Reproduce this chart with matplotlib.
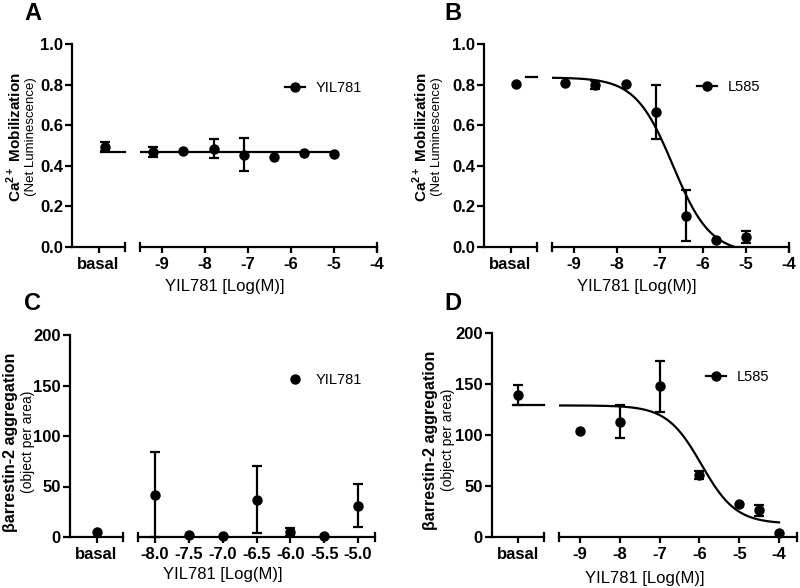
import matplotlib.pyplot as plt
from matplotlib.lines import Line2D
import numpy as np

plt.rcParams['font.family'] = ['Liberation Sans', 'DejaVu Sans']
plt.rcParams['mathtext.fontset'] = 'custom'
plt.rcParams['mathtext.rm'] = 'Liberation Sans'
plt.rcParams['mathtext.bf'] = 'Liberation Sans:bold'

W, H = 800, 588

# ---- data ----
# A: Ca2+ mobilization, YIL781
a_basal, a_basal_err = 0.495, 0.02
a_x = [-9.2, -8.5, -7.8, -7.1, -6.4, -5.7, -5.0]
a_y = [0.470, 0.475, 0.485, 0.455, 0.445, 0.465, 0.458]
a_err = [0.025, 0.0, 0.045, 0.082, 0.0, 0.0, 0.0]
a_fit = 0.468

# B: Ca2+ mobilization, L585
b_basal, b_basal_err = 0.805, 0.0
b_x = [-9.2, -8.5, -7.8, -7.1, -6.4, -5.7, -5.0]
b_y = [0.810, 0.800, 0.805, 0.665, 0.155, 0.035, 0.050]
b_err = [0.0, 0.02, 0.0, 0.135, 0.125, 0.0, 0.03]
b_fit = dict(top=0.835, bottom=-0.03, logic50=-6.7, hill=1.0)

# C: beta-arrestin-2 aggregation, YIL781 (no fit)
c_basal, c_basal_err = 5, 0
c_x = [-8.0, -7.5, -7.0, -6.5, -6.0, -5.5, -5.0]
c_y = [42, 2, 1, 37, 5, 0.5, 31]
c_err = [42, 0, 0, 33, 4, 0, 21]

# D: beta-arrestin-2 aggregation, L585
d_basal, d_basal_err = 139, 10
d_x = [-9, -8, -7, -6, -5, -4.5, -4]
d_y = [104, 113, 148, 61, 32, 26, 4]
d_err = [0, 16, 25, 4, 0, 5, 0]
d_fit = dict(top=129, bottom=13, logic50=-5.95, hill=1.0)


def logistic(x, top, bottom, logic50, hill):
    return bottom + (top - bottom) / (1 + 10 ** ((x - logic50) * hill))


fig = plt.figure(figsize=(W / 100, H / 100), dpi=100)

LW = 1.6
MS = 6.5
TICK_FS = 12


def fpos(x0, x1, ytop, ybot):
    return [x0 / W, 1 - ybot / H, (x1 - x0) / W, (ybot - ytop) / H]


def cap(ax, x):
    ax.plot([x, x], [-0.022, 0.022], color='k', lw=LW,
            transform=ax.get_xaxis_transform(), clip_on=False)


def points(ax, x, y, err):
    x, y, err = np.asarray(x, float), np.asarray(y, float), np.asarray(err, float)
    m = err > 0
    if m.any():
        ax.errorbar(x[m], y[m], yerr=err[m], fmt='none', ecolor='k',
                    elinewidth=LW, capsize=3.5, capthick=LW, clip_on=False)
    ax.plot(x, y, 'o', color='k', ms=MS, clip_on=False, zorder=4)


def panel(geo, ylim, yticks, ylabels, xlim, xticks, xlabels,
          basal, basal_err, basal_x, x, y, err,
          fit=None, flat=None, fit_end=None, basal_fit_from=None,
          legend_label='', legend_line=True, legend_xy=(0, 0),
          ylab1='', ylab1_size=10.5, ylab2='', ylab2_size=9.5, ylab_xy=(0, 0, 0),
          xlab_y=0, letter='', letter_xy=(0, 0)):
    ax0, bend, mstart, mend, ytop, ybot = geo
    axb = fig.add_axes(fpos(ax0, bend, ytop, ybot))
    axm = fig.add_axes(fpos(mstart, mend, ytop, ybot))
    for a in (axb, axm):
        a.set_ylim(*ylim)
        a.patch.set_visible(False)
        for s in ('top', 'right'):
            a.spines[s].set_visible(False)
        a.spines['bottom'].set_linewidth(LW)
        a.tick_params(axis='x', direction='out', length=4, width=LW, pad=3,
                      labelsize=TICK_FS)
    axb.spines['left'].set_linewidth(LW)
    axm.spines['left'].set_visible(False)
    axb.tick_params(axis='y', direction='out', length=5, width=LW, pad=1.5,
                    labelsize=TICK_FS)
    axb.set_yticks(yticks, ylabels, fontweight='bold')
    axm.set_yticks([])
    axb.set_xlim(0, 2)
    axb.set_xticks([1], ['basal'], fontweight='bold')
    axm.set_xlim(*xlim)
    axm.set_xticks(xticks, xlabels, fontweight='bold')
    cap(axb, 2)
    cap(axm, xlim[0])
    cap(axm, xlim[1])

    # basal point
    points(axb, [basal_x], [basal], [basal_err])
    # fit lines
    if fit is not None:
        xx = np.linspace(xlim[0], fit_end, 300)
        axm.plot(xx, logistic(xx, **fit), color='k', lw=LW)
        bl = logistic(xlim[0] - 10, **fit)
        axb.plot([basal_fit_from, 2], [bl, bl], color='k', lw=LW, clip_on=False)
    if flat is not None:
        axm.plot([xlim[0], fit_end], [flat, flat], color='k', lw=LW)
        axb.plot([basal_fit_from, 2], [flat, flat], color='k', lw=LW, clip_on=False)
    points(axm, x, y, err)

    h = Line2D([], [], color='k', marker='o', ms=MS,
               lw=LW if legend_line else 0)
    axm.legend([h], [legend_label], loc='center left',
               bbox_to_anchor=(legend_xy[0] / W, 1 - legend_xy[1] / H),
               bbox_transform=fig.transFigure, frameon=False, fontsize=10.5,
               handlelength=1.4, handletextpad=0.7, borderpad=0,
               borderaxespad=0)

    # axis labels
    fig.text((ax0 + mend) / 2 / W, 1 - xlab_y / H, 'YIL781 [Log(M)]',
             ha='center', va='center', fontsize=12)
    x1, x2, yc = ylab_xy
    fig.text(x1 / W, 1 - yc / H, ylab1, rotation=90, ha='center', va='center',
             fontsize=ylab1_size, fontweight='bold')
    fig.text(x2 / W, 1 - yc / H, ylab2, rotation=90, ha='center', va='center',
             fontsize=ylab2_size)
    fig.text(letter_xy[0] / W, 1 - letter_xy[1] / H, letter, ha='left',
             va='top', fontsize=17, fontweight='bold')


ca_ticks = [0.0, 0.2, 0.4, 0.6, 0.8, 1.0]
ca_labels = ['0.0', '0.2', '0.4', '0.6', '0.8', '1.0']
ar_ticks = [0, 50, 100, 150, 200]
ar_labels = ['0', '50', '100', '150', '200']
log_ticks = [-9, -8, -7, -6, -5, -4]
log_labels = ['-9', '-8', '-7', '-6', '-5', '-4']
half_ticks = [-8.0, -7.5, -7.0, -6.5, -6.0, -5.5, -5.0]
half_labels = ['-8.0', '-7.5', '-7.0', '-6.5', '-6.0', '-5.5', '-5.0']

ca_lab = r'Ca$^{\mathbf{2+}}$ Mobilization'
ar_lab = 'βarrestin-2 aggregation'

panel((72, 125, 140, 377, 44, 247), (0, 1.0), ca_ticks, ca_labels,
      (-9.51, -4.0), log_ticks, log_labels,
      a_basal, a_basal_err, 1.25, a_x, a_y, a_err,
      flat=a_fit, fit_end=-5.0, basal_fit_from=1.1,
      legend_label='YIL781', legend_xy=(285, 88),
      ylab1=ca_lab, ylab1_size=11, ylab2='(Net Luminescence)', ylab2_size=9.5,
      ylab_xy=(14, 31, 137),
      xlab_y=287, letter='A', letter_xy=(24, 2))

panel((484, 537, 552, 789, 44, 247), (0, 1.0), ca_ticks, ca_labels,
      (-9.51, -4.0), log_ticks, log_labels,
      b_basal, b_basal_err, 1.2, b_x, b_y, b_err,
      fit=b_fit, fit_end=-5.0, basal_fit_from=1.6,
      legend_label='L585', legend_xy=(697, 87),
      ylab1=ca_lab, ylab1_size=11, ylab2='(Net Luminescence)', ylab2_size=9.5,
      ylab_xy=(420, 437, 137),
      xlab_y=287, letter='B', letter_xy=(444, 2))

panel((70, 123, 138, 375, 335, 537), (0, 200), ar_ticks, ar_labels,
      (-8.25, -4.75), half_ticks, half_labels,
      c_basal, c_basal_err, 1.0, c_x, c_y, c_err,
      legend_label='YIL781', legend_line=False, legend_xy=(285, 380),
      ylab1=ar_lab, ylab1_size=11.5, ylab2='(object per area)', ylab2_size=10,
      ylab_xy=(11, 28, 442),
      xlab_y=575, letter='C', letter_xy=(24, 292))

panel((492, 544, 559, 797, 333, 537), (0, 200), ar_ticks, ar_labels,
      (-9.53, -3.55), log_ticks, log_labels,
      d_basal, d_basal_err, 1.0, d_x, d_y, d_err,
      fit=d_fit, fit_end=-4.0, basal_fit_from=0.8,
      legend_label='L585', legend_xy=(706, 377),
      ylab1=ar_lab, ylab1_size=11.5, ylab2='(object per area)', ylab2_size=10,
      ylab_xy=(431, 448, 440),
      xlab_y=579, letter='D', letter_xy=(444, 292))

fig.savefig('out.png', dpi=100)
